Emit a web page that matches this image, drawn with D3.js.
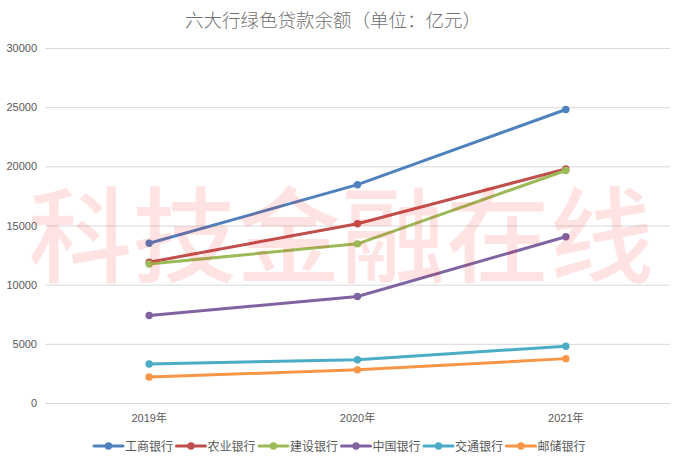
<!DOCTYPE html>
<html>
<head>
<meta charset="utf-8">
<script src="https://cdn.jsdelivr.net/npm/d3@7"></script>
<style>
    html, body { margin: 0; padding: 0; background: #fff; }
    svg { display: block; }
    text { font-family: "Noto Sans CJK SC", "Liberation Sans", sans-serif; }
    .y-axis text, .x-axis text { font-family: "Liberation Sans", "Noto Sans CJK SC", sans-serif; font-size: 11px; fill: #595959; }
</style>
</head>
<body>
<div id="chart"></div>
<script>
const TITLE = "六大行绿色贷款余额（单位：亿元）";
const WATERMARK = ["科", "技", "金", "融", "在", "线"];
const years = ["2019年", "2020年", "2021年"];
const yTicks = [0, 5000, 10000, 15000, 20000, 25000, 30000];

const banks = ["工商银行", "农业银行", "建设银行", "中国银行", "交通银行", "邮储银行"];
const colors = ["#4f81bd", "#c0504d", "#9bbb59", "#8064a2", "#4bacc6", "#f79646"];

const icbc = [13500, 18450, 24800];
const abc = [11900, 15150, 19780];
const ccb = [11750, 13450, 19650];
const boc = [7400, 9000, 14050];
const bocom = [3300, 3650, 4800];
const psbc = [2200, 2800, 3750];
const seriesValues = [icbc, abc, ccb, boc, bocom, psbc];

const width = 679;
const height = 464;
const plot = { left: 45, right: 670, top: 48, bottom: 403 };

const svg = d3.select("#chart").append("svg")
    .attr("width", width)
    .attr("height", height)
    .attr("viewBox", `0 0 ${width} ${height}`);

const xScale = d3.scaleBand().domain(years).range([plot.left, plot.right]);
const yScale = d3.scaleLinear().domain([0, 30000]).range([plot.bottom, plot.top]);

// title
svg.append("text")
    .attr("x", 333)
    .attr("y", 27)
    .attr("text-anchor", "middle")
    .attr("font-size", 18.5)
    .attr("font-weight", 300)
    .attr("fill", "#707070")
    .text(TITLE);

// gridlines and y labels
svg.append("g")
    .attr("class", "y-axis")
    .attr("transform", `translate(${plot.left},0)`)
    .call(d3.axisLeft(yScale).tickValues(yTicks).tickSize(-(plot.right - plot.left)).tickPadding(8).tickFormat(d => d))
    .call(g => g.select(".domain").remove())
    .call(g => g.selectAll(".tick line").attr("stroke", "#d9d9d9"));

svg.append("g")
    .attr("class", "x-axis")
    .attr("transform", `translate(0,${plot.bottom})`)
    .call(d3.axisBottom(xScale).tickSize(0).tickPadding(11))
    .call(g => g.select(".domain").remove());

// lines
const line = d3.line()
    .x((d, i) => xScale(years[i]) + xScale.bandwidth() / 2)
    .y(d => yScale(d));

seriesValues.forEach((values, s) => {
    const g = svg.append("g").attr("class", "series");
    g.append("path")
        .attr("d", line(values))
        .attr("fill", "none")
        .attr("stroke", colors[s])
        .attr("stroke-width", 3)
        .attr("stroke-linecap", "round");
    g.selectAll("circle")
        .data(values)
        .join("circle")
        .attr("cx", (d, i) => xScale(years[i]) + xScale.bandwidth() / 2)
        .attr("cy", d => yScale(d))
        .attr("r", 3.7)
        .attr("fill", colors[s]);
});

// legend
const legendScale = d3.scalePoint().domain(banks).range([94, 506.5]);
const legendY = 446;
const legend = svg.append("g").attr("class", "legend");
banks.forEach((name, i) => {
    const x = legendScale(name);
    legend.append("line")
        .attr("x1", x).attr("x2", x + 29)
        .attr("y1", legendY).attr("y2", legendY)
        .attr("stroke", colors[i])
        .attr("stroke-width", 3)
        .attr("stroke-linecap", "round");
    legend.append("circle")
        .attr("cx", x + 14.5).attr("cy", legendY).attr("r", 3.7)
        .attr("fill", colors[i]);
    legend.append("text")
        .attr("x", x + 31).attr("y", legendY + 4.5)
        .attr("font-size", 12)
        .attr("fill", "#595959")
        .text(name);
});

// watermark sits over everything, gridlines and lines show through it
const markScale = d3.scaleBand().domain(WATERMARK).range([28, 654]);
svg.append("g").attr("class", "watermark")
    .selectAll("text")
    .data(WATERMARK)
    .join("text")
    .attr("x", d => markScale(d) + markScale.bandwidth() / 2)
    .attr("y", 275)
    .attr("text-anchor", "middle")
    .attr("font-size", 104)
    .attr("font-weight", 500)
    .attr("fill", "#ff0000")
    .attr("fill-opacity", 0.11)
    .text(d => d);
</script>
</body>
</html>
